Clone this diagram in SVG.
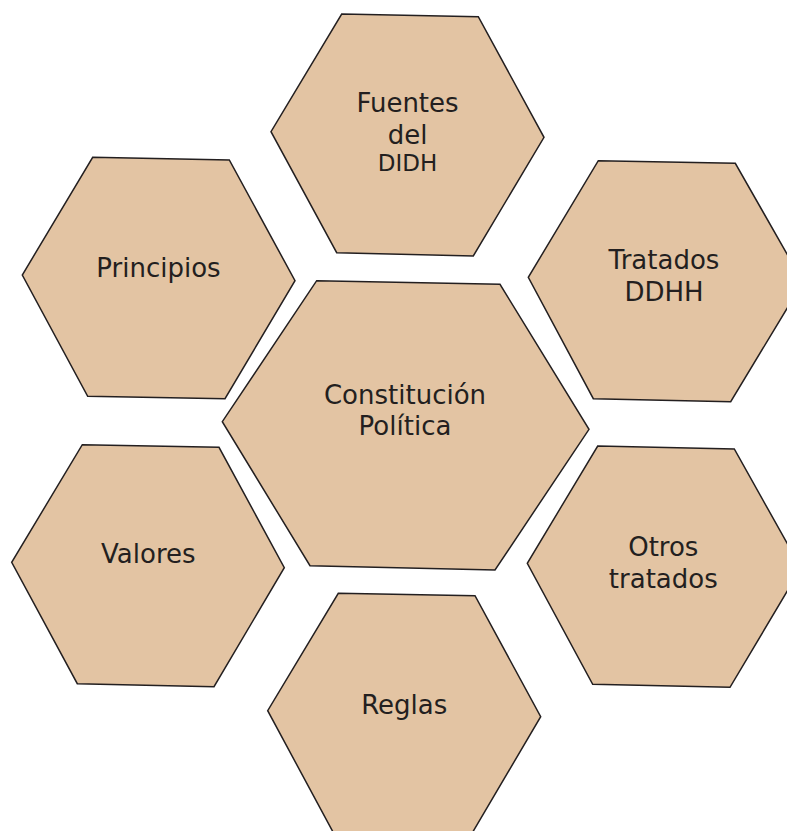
<svg xmlns="http://www.w3.org/2000/svg" width="787" height="831" viewBox="0 0 787 831">
<style>
.hex{fill:#E3C4A3;stroke:#231F20;stroke-width:1.5;stroke-linejoin:miter}
.t{font-family:"DejaVu Sans",Verdana,sans-serif;font-size:26px;fill:#231F20;text-anchor:middle}
.s{font-size:23px}
</style>
<rect width="787" height="831" fill="#FFFFFF"/>
<g id="connectors"></g>
<g id="fuentes">
<polygon class="hex" points="341.7,14 478.3,16.7 544,137.3 473.3,256 336.7,252.7 271,131.7"/>
<text class="t" x="407.5" y="111.7">Fuentes</text>
<text class="t" x="407.5" y="144">del</text>
<text class="t s" x="407.5" y="171">DIDH</text>
</g>
<g id="principios">
<polygon class="hex" points="92.7,157.3 229.3,160 295,280.7 225,398.7 87.7,396.3 22.3,275"/>
<text class="t" x="158.5" y="276.7">Principios</text>
</g>
<g id="tratados">
<polygon class="hex" points="598.3,160.7 735.3,163.3 803,282 730.7,401.7 593.3,398.7 528.3,277.3"/>
<text class="t" x="664" y="269">Tratados</text>
<text class="t" x="664" y="300.7">DDHH</text>
</g>
<g id="constitucion">
<polygon class="hex" points="316.7,280.7 500,284.3 589,429.3 495,570 310,565.7 222.3,421.7"/>
<text class="t" x="405" y="404">Constitución</text>
<text class="t" x="405" y="435">Política</text>
</g>
<g id="valores">
<polygon class="hex" points="82.3,444.7 219,447.3 284.3,567.7 214,686.7 77.3,683.7 11.7,562.3"/>
<text class="t" x="148.3" y="562.7">Valores</text>
</g>
<g id="otros">
<polygon class="hex" points="597.7,446 734.3,449 801,568 730,687.3 592.7,684.3 527.3,563.3"/>
<text class="t" x="663.3" y="555.7">Otros</text>
<text class="t" x="663.3" y="587.7">tratados</text>
</g>
<g id="reglas">
<polygon class="hex" points="338.3,593.3 475,595.7 540.7,716.7 471,835 333,832 267.7,710.7"/>
<text class="t" x="404.2" y="714">Reglas</text>
</g>
</svg>
